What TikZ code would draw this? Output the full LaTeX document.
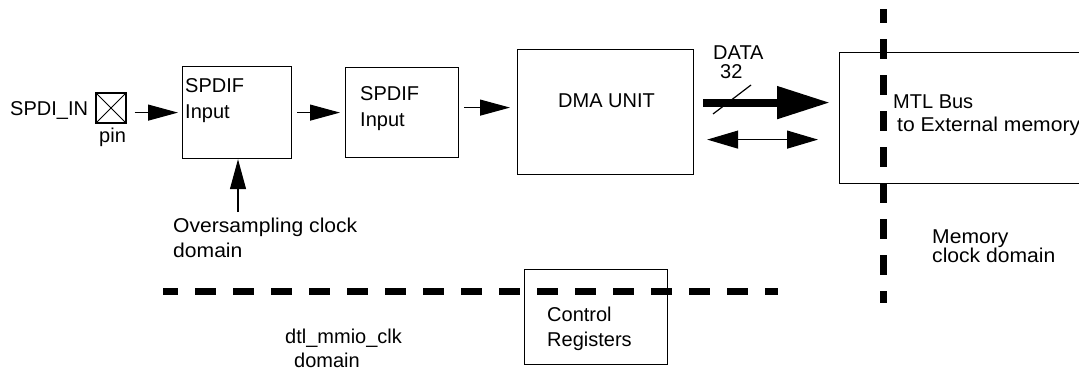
\documentclass[tikz,border=0pt]{standalone}
\usepackage{fontspec}
\setmainfont{Liberation Sans}
\usetikzlibrary{arrows.meta}
\begin{document}
\begin{tikzpicture}[x=1pt,y=-1pt,
 box/.style={draw, line width=1.2pt, inner sep=0, anchor=north west},
 lbl/.style={anchor=base west, inner sep=0, font=\fontsize{20}{24}\selectfont},
 wlbl/.style={lbl, xscale=1.055},
 arr/.style={line width=1.2pt, -{Triangle[length=30pt,width=16pt]}},
 domline/.style={line width=7pt, dash pattern=on 21pt off 17pt},
]
\useasboundingbox (0,0) rectangle (1079,372);
% boxes
\node[box, minimum size=30pt, anchor=center] (pin) at (111,108) {};
\draw[line width=1pt] (pin.north west) -- (pin.south east) (pin.north east) -- (pin.south west);
\node[box, minimum width=109pt, minimum height=92pt] (b1) at (182,66) {};
\node[box, minimum width=113pt, minimum height=90pt] (b2) at (345,67) {};
\node[box, minimum width=176pt, minimum height=125pt] (dma) at (517,49) {};
\node[box, minimum width=260pt, minimum height=131pt] (mtl) at (839,52) {};
\node[box, minimum width=143pt, minimum height=95pt] (ctrl) at (524,269) {};
% texts
\node[lbl] (tin) at (10,115) {SPDI\_IN};
\node[lbl] (tpin) at (99,142) {pin};
\node[lbl] (t1a) at (185,92) {SPDIF};
\node[lbl] (t1b) at (185,118) {Input};
\node[lbl] (t2a) at (360,100) {SPDIF};
\node[lbl] (t2b) at (360,126) {Input};
\node[lbl] (tdma) at (558,107) {DMA UNIT};
\node[lbl] (tdata) at (713,59) {DATA};
\node[lbl] (t32) at (720,78) {32};
\node[lbl] (tmtl) at (893,108) {MTL Bus};
\node[wlbl] (text) at (897,131) {to External memory};
\node[wlbl] (tmem) at (932,243) {Memory};
\node[wlbl] (tmem2) at (932,262) {clock domain};
\node[wlbl] (tos) at (173,232) {Oversampling clock};
\node[wlbl] (tos2) at (173,257) {domain};
\node[lbl] (tdtl) at (285,343) {dtl\_mmio\_clk};
\node[lbl] (tdtl2) at (294,367) {domain};
\node[lbl] (tc1) at (547,321) {Control};
\node[lbl] (tc2) at (547,346) {Registers};
% connectors
\draw[arr, shorten <=8pt, shorten >=4pt] (pin.east |- b1.west) -- (b1.west);
\draw[arr, shorten <=5pt, shorten >=5pt] (b1.east) -- (b1.east -| b2.west);
\draw[arr, shorten <=5pt, shorten >=7pt] ([yshift=5pt]b2.east) -- ([yshift=5pt]b2.east -| dma.west);
\draw[line width=8pt, -{Triangle[length=53pt,width=31pt]}, shorten <=9pt, shorten >=9pt]
  ([yshift=9.5pt]dma.east) -- ([yshift=9.5pt]dma.east -| mtl.west);
\draw[line width=1.2pt] (713,114) -- (751,85);
\draw[line width=1.2pt, {Triangle[length=31pt,width=18pt]}-{Triangle[length=31pt,width=18pt]}, shorten <=13pt, shorten >=21pt]
  ([yshift=-27.5pt]dma.east) -- ([yshift=-27.5pt]dma.east -| mtl.west);
\coordinate (osc) at (238,212);
\draw[arr] (osc) -- (osc |- b1.south);
% domain lines
\draw[domline, dash phase=6pt] (163,291.5) -- (778,291.5);
\draw[line width=7pt, dash pattern=on 20pt off 16pt, dash phase=6pt] (883.5,9) -- (883.5,303);
\end{tikzpicture}
\end{document}
